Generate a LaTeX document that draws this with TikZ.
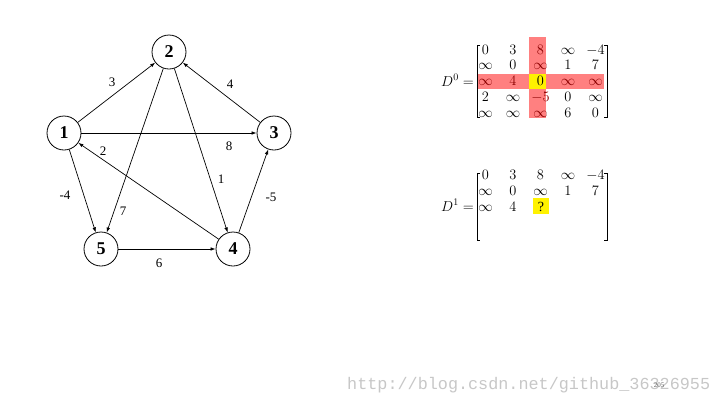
\documentclass[tikz,border=0pt]{standalone}
\usepackage{fontspec}
\setmainfont{Liberation Serif}
\newfontfamily\wmfont{Liberation Mono}
\usetikzlibrary{arrows.meta}

\tikzset{
  vert/.style={circle, draw, line width=0.8pt, minimum size=34pt, inner sep=0pt,
    font=\fontsize{18}{18}\selectfont\bfseries},
  arc/.style={-{Latex[length=5pt,width=3.6pt]}, line width=0.7pt},
  wt/.style={font=\fontsize{13}{13}\selectfont, inner sep=0pt},
  ent/.style={font=\fontsize{14}{14}\selectfont, inner sep=0pt,
    text height=9pt, text depth=1pt},
  brk/.style={line width=0.8pt},
}

\begin{document}
\begin{tikzpicture}[x=1pt,y=-1pt]
   \useasboundingbox (0,0) rectangle (720,405);

   % the graph
   \node[vert] (n1) at (64,133) {1};
   \node[vert] (n2) at (169,52) {2};
   \node[vert] (n3) at (274,133) {3};
   \node[vert] (n4) at (233,249) {4};
   \node[vert] (n5) at (101,249) {5};

   \draw[arc] (n1) -- (n2);
   \draw[arc] (n3) -- (n2);
   \draw[arc] (n1) -- (n3);
   \draw[arc] (n4) -- (n1);
   \draw[arc] (n2) -- (n5);
   \draw[arc] (n2) -- (n4);
   \draw[arc] (n1) -- (n5);
   \draw[arc] (n5) -- (n4);
   \draw[arc] (n4) -- (n3);

   \node[wt] (w12) at (112,82) {3};
   \node[wt] (w32) at (230,84) {4};
   \node[wt] (w13) at (229,146) {8};
   \node[wt] (w41) at (103,151) {2};
   \node[wt] (w24) at (221,179) {1};
   \node[wt] (w15) at (65,195) {-4};
   \node[wt] (w43) at (271,197) {-5};
   \node[wt] (w25) at (123,211) {7};
   \node[wt] (w54) at (159,263) {6};

   % D^0 with row 3 and column 3 marked
   \fill[red!50] (529,37) rectangle (546,118);
   \fill[red!50] (477,74) rectangle (604,89);
   \fill[yellow] (529,74) rectangle (546,89);

   \node[ent, anchor=east] (d0) at (474,82) {$D^0=$};
   \foreach \row [count=\r] in {{0,3,8,\infty,-4},{\infty,0,\infty,1,7},
       {\infty,4,0,\infty,\infty},{2,\infty,-5,0,\infty},{\infty,\infty,\infty,6,0}}
     \foreach \t [count=\c] in \row {
       \pgfmathtruncatemacro\hl{and(or(\r==3,\c==3),\r*\c!=9)}
       \ifnum\hl=1 \def\tc{red!55!black}\else\def\tc{black}\fi
       \node[ent, text=\tc] (a\r\c) at (458+27.5*\c,50+15.75*\r-15.75) {$\t$};
     }
   \draw[brk] (480,45) -- (477,45) -- (477,117) -- (480,117);
   \draw[brk] (604,45) -- (607,45) -- (607,117) -- (604,117);

   % D^1, partly filled in
   \fill[yellow] (533,198) rectangle (549,214);
   \node[ent, anchor=east] (d1) at (474,207) {$D^1=$};
   \foreach \row [count=\r] in {{0,3,8,\infty,-4},{\infty,0,\infty,1,7},{\infty,4}}
     \foreach \t [count=\c] in \row
       \node[ent] (b\r\c) at (458+27.5*\c,175+16*\r-16) {$\t$};
   \node[ent] (b33) at (541,207) {?};
   \draw[brk] (480,173) -- (477,173) -- (477,240) -- (480,240);
   \draw[brk] (604,173) -- (607,173) -- (607,240) -- (604,240);

   % watermark and page number
   \node[anchor=west, inner sep=0pt, text=black!22, font=\wmfont\fontsize{16.8}{17}\selectfont]
     (wm) at (347,385) {http://blog.csdn.net/github\_36326955};
   \node[inner sep=0pt, text=black!60, font=\fontsize{7}{7}\selectfont] (pg) at (659,385) {205};
\end{tikzpicture}
\end{document}
